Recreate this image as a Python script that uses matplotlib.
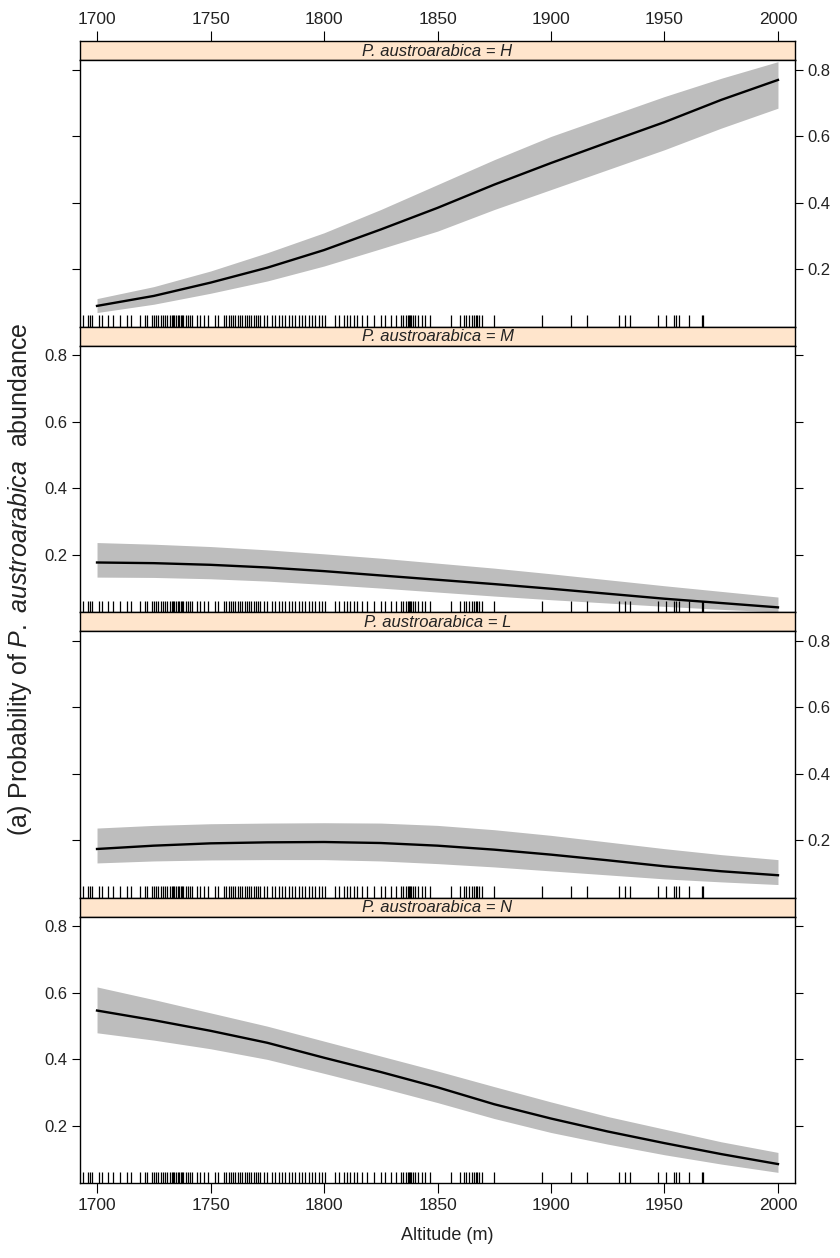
import matplotlib
matplotlib.use("Agg")
import matplotlib.pyplot as plt

plt.rcParams['font.family'] = ['Liberation Sans', 'DejaVu Sans']
plt.rcParams['mathtext.fontset'] = 'custom'
plt.rcParams['mathtext.rm'] = 'Liberation Sans'
plt.rcParams['mathtext.it'] = 'Liberation Sans:italic'

# ---------------- data ----------------
altitude = [1700, 1725, 1750, 1775, 1800, 1825, 1850, 1875, 1900, 1925, 1950, 1975, 2000]

levels = ["H", "M", "L", "N"]

fit_H = [0.090, 0.120, 0.160, 0.205, 0.258, 0.320, 0.385, 0.455, 0.520, 0.582, 0.643, 0.710, 0.770]
lo_H = [0.070, 0.095, 0.128, 0.165, 0.210, 0.262, 0.315, 0.380, 0.440, 0.500, 0.560, 0.625, 0.685]
hi_H = [0.112, 0.148, 0.195, 0.250, 0.310, 0.380, 0.455, 0.530, 0.600, 0.660, 0.720, 0.775, 0.825]

fit_M = [0.177, 0.175, 0.170, 0.162, 0.151, 0.138, 0.125, 0.112, 0.098, 0.083, 0.068, 0.055, 0.042]
lo_M = [0.133, 0.132, 0.128, 0.121, 0.111, 0.100, 0.088, 0.076, 0.065, 0.055, 0.045, 0.036, 0.028]
hi_M = [0.237, 0.232, 0.225, 0.215, 0.203, 0.190, 0.175, 0.160, 0.143, 0.125, 0.107, 0.090, 0.073]

fit_L = [0.174, 0.184, 0.191, 0.194, 0.195, 0.192, 0.184, 0.172, 0.157, 0.140, 0.122, 0.107, 0.095]
lo_L = [0.132, 0.138, 0.141, 0.142, 0.142, 0.138, 0.130, 0.120, 0.108, 0.096, 0.084, 0.075, 0.067]
hi_L = [0.237, 0.245, 0.250, 0.252, 0.253, 0.252, 0.245, 0.232, 0.215, 0.195, 0.175, 0.157, 0.142]

fit_N = [0.547, 0.518, 0.486, 0.450, 0.405, 0.362, 0.316, 0.265, 0.222, 0.183, 0.148, 0.115, 0.085]
lo_N = [0.480, 0.458, 0.432, 0.400, 0.358, 0.315, 0.270, 0.222, 0.180, 0.145, 0.113, 0.085, 0.060]
hi_N = [0.618, 0.580, 0.540, 0.500, 0.455, 0.410, 0.365, 0.318, 0.272, 0.228, 0.190, 0.152, 0.120]

rug_altitudes = [
    1694, 1696, 1697, 1698, 1701, 1702, 1705, 1707, 1710, 1713, 1715, 1719, 1721, 1722,
    1724, 1725, 1726, 1727, 1728, 1729, 1730, 1731, 1732, 1733, 1733.5, 1734, 1735, 1735.5,
    1736, 1737, 1737.5, 1738, 1739, 1740, 1741,
    1742, 1744, 1745.5, 1747, 1749, 1752, 1753.5, 1756,
    1757, 1758, 1759, 1760, 1761, 1762, 1763, 1764, 1765, 1766, 1767, 1768, 1769, 1770, 1771,
    1772, 1773.5, 1775, 1777, 1778.6, 1780, 1781.5, 1783, 1784.5, 1786, 1787.4, 1788.9,
    1790.4, 1791.8, 1793.3, 1794.8, 1796.2, 1797.7, 1799.2, 1800.6,
    1805, 1806.5, 1808.7, 1810, 1811.6, 1813, 1814.6, 1816.8, 1819, 1822, 1825, 1827,
    1829.3, 1831.5, 1833.7, 1835, 1836, 1837, 1837.5, 1838, 1838.5, 1839, 1840,
    1841.6, 1843, 1844.6, 1846.8,
    1856, 1860, 1861.5, 1862.7, 1863.8, 1865.2, 1866, 1866.8, 1867.6, 1868.5, 1869.6,
    1874.7, 1896, 1909, 1916, 1930, 1932.7, 1934.6, 1947, 1950.7, 1954, 1955.2, 1956.2,
    1961, 1966.5, 1967,
]

x_ticks = [1700, 1750, 1800, 1850, 1900, 1950, 2000]
y_ticks = [0.2, 0.4, 0.6, 0.8]
y_ticklabels = ["0.2", "0.4", "0.6", "0.8"]

series = {
    "H": (fit_H, lo_H, hi_H),
    "M": (fit_M, lo_M, hi_M),
    "L": (fit_L, lo_L, hi_L),
    "N": (fit_N, lo_N, hi_N),
}

# ---------------- layout ----------------
W, H = 840, 1258
fig = plt.figure(figsize=(W / 100, H / 100), dpi=100)

left_px, right_px = 80, 795
top_px, bottom_px = 41, 1183
block = (bottom_px - top_px) / 4.0
strip_h = 19

text_col = "#222222"
band_col = "#bdbdbd"
strip_col = "#ffe5cc"

xlim = (1692.5, 2007.5)
ylim = (0.028, 0.83)


def fig_rect(x0, y0, x1, y1):
    return [x0 / W, 1 - y1 / H, (x1 - x0) / W, (y1 - y0) / H]


for i, lev in enumerate(levels):
    btop = top_px + i * block
    # strip
    sax = fig.add_axes(fig_rect(left_px, btop, right_px, btop + strip_h))
    sax.set_facecolor(strip_col)
    sax.set_xlim(*xlim)
    sax.set_ylim(0, 1)
    sax.set_yticks([])
    for sp in sax.spines.values():
        sp.set_linewidth(1.0)
        sp.set_color("black")
    sax.text(0.5, 0.45, f"P. austroarabica = {lev}", transform=sax.transAxes,
             ha="center", va="center", fontsize=12, style="italic", color=text_col)
    if i == 0:
        sax.set_xticks(x_ticks)
        sax.tick_params(axis="x", top=True, labeltop=True, bottom=False, labelbottom=False,
                        direction="out", length=7, width=0.8, labelsize=12.5,
                        labelcolor=text_col, pad=3)
    else:
        sax.set_xticks([])

    # panel
    ax = fig.add_axes(fig_rect(left_px, btop + strip_h, right_px, btop + block))
    fit, lo, hi = series[lev]
    ax.fill_between(altitude, lo, hi, color=band_col, lw=0)
    ax.plot(altitude, fit, color="black", lw=1.7)
    ax.vlines(rug_altitudes, 0, 0.042, transform=ax.get_xaxis_transform(),
              color="black", lw=0.9)
    ax.set_xlim(*xlim)
    ax.set_ylim(*ylim)
    ax.set_yticks(y_ticks)
    ax.set_yticklabels(y_ticklabels)
    for sp in ax.spines.values():
        sp.set_linewidth(1.0)
        sp.set_color("black")
    labels_right = (i % 2 == 0)
    ax.tick_params(axis="y", left=True, right=True,
                   labelleft=not labels_right, labelright=labels_right,
                   direction="out", length=6, width=0.8, labelsize=12,
                   labelcolor=text_col, pad=3)
    if i == 3:
        ax.set_xticks(x_ticks)
        ax.tick_params(axis="x", bottom=True, labelbottom=True, top=False,
                       direction="out", length=7, width=0.8, labelsize=12.5,
                       labelcolor=text_col, pad=4)
    else:
        ax.set_xticks([])

fig.text(447 / W, 1 - 1236 / H, "Altitude (m)", ha="center", va="center",
         fontsize=13, color=text_col)
fig.text(20 / W, 1 - 579 / H,
         r"(a) Probability of $\it{P.\ austroarabica}$  abundance",
         rotation=90, ha="center", va="center", fontsize=18, color=text_col)

fig.savefig("out.png", dpi=100, facecolor="white")
